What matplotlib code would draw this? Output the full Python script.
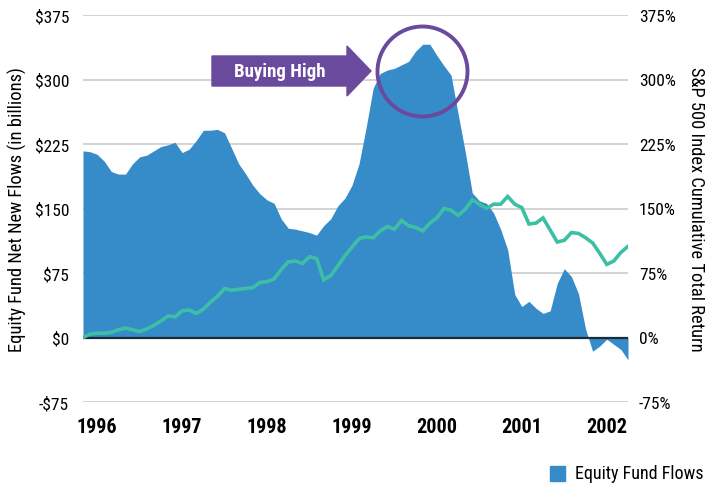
import numpy as np
import matplotlib
matplotlib.use("Agg")
import matplotlib.pyplot as plt
from matplotlib.patches import Ellipse, Polygon, Rectangle

plt.rcParams['font.family'] = ['Liberation Sans Narrow', 'Roboto Condensed', 'Roboto', 'DejaVu Sans']
plt.rcParams['font.stretch'] = 'condensed'

# monthly data, Nov 1995 .. Apr 2002
start_year = 1995 + 10 / 12
flows = [217, 216, 213, 205, 193, 190, 190, 202, 210, 212, 217, 222, 224, 227,
         215, 219, 229, 241, 241, 242, 238, 220, 202, 190, 177, 167, 160, 156,
         138, 127, 126, 124, 122, 119, 130, 138, 153, 162, 177, 202, 244, 290,
         307, 311, 313, 317, 321, 333, 341, 341, 328, 316, 305, 260, 216, 168,
         159, 156, 145, 126, 102, 50, 36, 42, 34, 28, 31, 63, 80, 71, 51, 10,
         -16, -10, -2, -8, -14, -26]
sp500 = [0, 4, 5, 5, 6, 9, 11, 9, 7, 10, 14, 19, 25, 24, 31, 32, 28, 33, 41,
         48, 57, 55, 56, 57, 58, 64, 65, 68, 79, 88, 89, 86, 94, 92, 67, 72,
         83, 95, 105, 115, 117, 116, 124, 129, 126, 136, 130, 128, 124, 133,
         139, 150, 148, 142, 149, 160, 155, 150, 155, 155, 164, 155, 151, 132,
         133, 139, 125, 111, 113, 122, 121, 116, 110, 98, 85, 89, 99, 106]
x = start_year + np.arange(len(flows)) / 12

years = [1996, 1997, 1998, 1999, 2000, 2001, 2002]
yticks = [-75, 0, 75, 150, 225, 300, 375]

blue = '#368bc9'
teal = '#3dbfa5'
purple = '#6a4a9c'

fig = plt.figure(figsize=(7.05, 4.85), dpi=100)
ax = fig.add_axes([83 / 705, 1 - 403 / 485, 545 / 705, 387 / 485])
ax.set_xlim(x[0], x[-1])
ax.set_ylim(-75, 375)

for v in yticks:
    if v != 0:
        ax.axhline(v, color='#cccccc', lw=1.2, zorder=0)
ax.fill_between(x, flows, 0, color=blue, lw=0, zorder=1)
ax.axhline(0, color='#1d2b36', lw=1.6, zorder=3)

ax2 = ax.twinx()
ax2.set_ylim(-75, 375)
ax2.plot(x, sp500, color=teal, lw=2.6, solid_joinstyle='miter', zorder=4)

for a in (ax, ax2):
    for s in a.spines.values():
        s.set_visible(False)
    a.tick_params(length=0)

ax.set_yticks(yticks)
ax.set_yticklabels(['$' + str(v) if v >= 0 else '-$' + str(-v) for v in yticks],
                   fontsize=12.5)
ax.tick_params(axis='y', pad=10)
ax2.set_yticks(yticks)
ax2.set_yticklabels([str(v) + '%' for v in yticks], fontsize=12.5)
ax2.tick_params(axis='y', pad=8)

ax.set_xticks(years)
ax.set_xticklabels([str(y) for y in years], fontsize=14.5, fontweight='bold')
ax.tick_params(axis='x', pad=11)

ax.set_ylabel('Equity Fund Net New Flows (in billions)', fontsize=13.3)
ax.yaxis.set_label_coords(-56 / 545, 0.5)
ax2.set_ylabel('S&P 500 Index Cumulative Total Return', fontsize=13.3,
               rotation=270, va='center')
ax2.yaxis.set_label_coords(1 + 68 / 545, 0.5)

# annotation: arrow + circle (pixel positions converted to figure fraction)
def fp(px, py):
    return (px / 705, 1 - py / 485)

arrow = Polygon([fp(212, 57), fp(347, 57), fp(347, 47), fp(371, 72),
                 fp(347, 97), fp(347, 87), fp(212, 87)],
                closed=True, transform=fig.transFigure, color=purple, zorder=10)
fig.patches.append(arrow)
fig.text(280 / 705, 1 - 72 / 485, 'Buying High', color='white', fontsize=13.5,
         fontweight='bold', ha='center', va='center', zorder=11)
circ = Ellipse(fp(422.5, 72.5), width=90 / 705, height=90 / 485,
               transform=fig.transFigure, fill=False, ec=purple, lw=2.8, zorder=10)
fig.patches.append(circ)

# legend
leg = Rectangle(fp(550, 482), 15 / 705, 15 / 485, transform=fig.transFigure,
                color=blue)
fig.patches.append(leg)
fig.text(575 / 705, 1 - 474 / 485, 'Equity Fund Flows', fontsize=13,
         ha='left', va='center')

fig.savefig('out.png', dpi=100)
